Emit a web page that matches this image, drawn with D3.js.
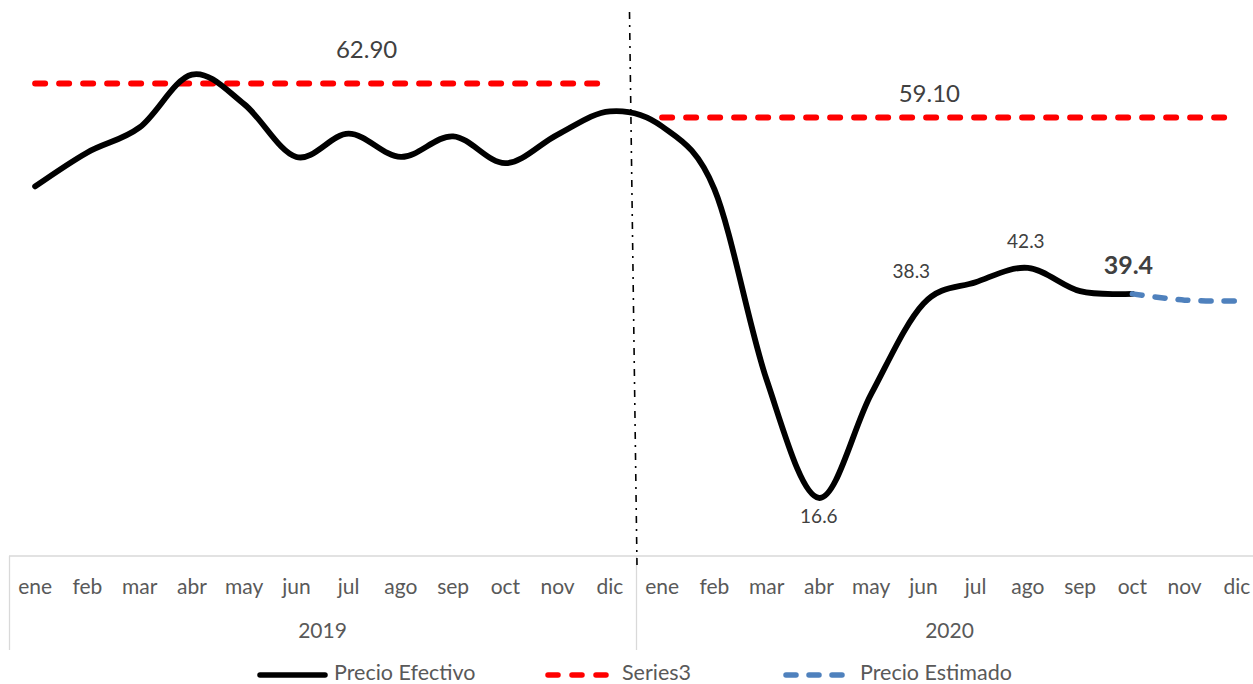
<!DOCTYPE html>
<html>
<head>
<meta charset="utf-8">
<script src="https://cdn.jsdelivr.net/npm/d3@7"></script>
<style>
  body { margin: 0; background: #fff; }
  svg { display: block; font-family: Lato, "Noto Sans", sans-serif; }
</style>
</head>
<body>
<svg id="chart" width="1253" height="684"></svg>
<script>
// months and years on the category axis
const months = ["ene", "feb", "mar", "abr", "may", "jun", "jul", "ago", "sep", "oct", "nov", "dic"];
const years = ["2019", "2020"];

// Precio Efectivo, nulls where there is no data
const precioEfectivo = [51.4, 55.2, 58.0, 63.9, 60.6, 54.7, 57.3, 54.7, 57.0, 54.0, 57.2, 59.8,
                        58.1, 51.1, 29.8, 16.6, 28.2, 38.3, 40.7, 42.3, 39.7, 39.4, null, null];
// Precio Estimado starts at the last real value
const precioEstimado = [null, null, null, null, null, null, null, null, null, null, null, null,
                        null, null, null, null, null, null, null, null, null, 39.4, 38.7, 38.6];
// Series3 = yearly average line
const series3 = [62.90, 59.10];

const labelled = [15, 17, 19, 21]; // points that carry a data label

let svg = d3.select("#chart");

// one entry per month
let cats = [];
years.forEach(function (yr, yi) {
    months.forEach(function (m, mi) {
        cats.push({ key: yr + "-" + m, month: m, year: yr, yi: yi, i: yi * 12 + mi });
    });
});

let x = d3.scaleBand()
    .domain(cats.map(d => d.key))
    .range([9, 1263]);

let y = d3.scaleLinear()
    .domain([10, 70])
    .range([557, 20]);

let cx = i => x(cats[i].key) + x.bandwidth() / 2;

// ---------------- category axis
let axisG = svg.append("g");
axisG.append("line")
    .attr("x1", 9).attr("x2", 1263)
    .attr("y1", 556).attr("y2", 556)
    .attr("stroke", "#d9d9d9").attr("stroke-width", 1.3);

// year separators
[0, 12].forEach(function (i) {
    let xx = x(cats[i].key);
    axisG.append("line")
        .attr("x1", xx + 0.5).attr("x2", xx + 0.5)
        .attr("y1", 556).attr("y2", 650)
        .attr("stroke", "#d9d9d9").attr("stroke-width", 1.3);
});

axisG.selectAll("text.month")
    .data(cats)
    .join("text")
    .attr("class", "month")
    .attr("x", d => x(d.key) + x.bandwidth() / 2)
    .attr("y", 589)
    .attr("text-anchor", "middle")
    .attr("dominant-baseline", "middle")
    .attr("font-size", 21)
    .attr("fill", "#595959")
    .text(d => d.month);

axisG.selectAll("text.year")
    .data(years)
    .join("text")
    .attr("class", "year")
    .attr("x", (d, i) => (x(cats[i * 12].key) + x(cats[i * 12 + 11].key) + x.bandwidth()) / 2)
    .attr("y", 633)
    .attr("text-anchor", "middle")
    .attr("dominant-baseline", "middle")
    .attr("font-size", 21)
    .attr("fill", "#595959")
    .text(d => d);

// ---------------- dash-dot divider between the years
svg.append("line")
    .attr("x1", 629.5).attr("y1", 12)
    .attr("x2", 637).attr("y2", 566)
    .attr("stroke", "#000")
    .attr("stroke-width", 1.6)
    .attr("stroke-dasharray", "7,6,2,6");

// ---------------- Series3 (red dashed, one piece per year)
years.forEach(function (yr, yi) {
    let pts = cats.filter(d => d.yi === yi);
    svg.append("path")
        .datum(pts)
        .attr("fill", "none")
        .attr("stroke", "#ff0000")
        .attr("stroke-width", 6)
        .attr("stroke-linecap", "round")
        .attr("stroke-dasharray", "10,14")
        .attr("d", d3.line()
            .x(d => cx(d.i))
            .y(d => y(series3[yi])));
});

// ---------------- Precio Efectivo
let smooth = d3.curveCardinal.tension(0);

svg.append("path")
    .datum(cats.filter(d => precioEfectivo[d.i] != null))
    .attr("fill", "none")
    .attr("stroke", "#000")
    .attr("stroke-width", 5.8)
    .attr("stroke-linecap", "round")
    .attr("d", d3.line()
        .curve(smooth)
        .x(d => cx(d.i))
        .y(d => y(precioEfectivo[d.i])));

// ---------------- Precio Estimado
svg.append("path")
    .datum(cats.filter(d => precioEstimado[d.i] != null))
    .attr("fill", "none")
    .attr("stroke", "#4f81bd")
    .attr("stroke-width", 5.5)
    .attr("stroke-linecap", "round")
    .attr("stroke-dasharray", "10,13")
    .attr("d", d3.line()
        .curve(smooth)
        .x(d => cx(d.i))
        .y(d => y(precioEstimado[d.i])));

// ---------------- labels
svg.append("text")
    .attr("x", cx(6) + 18)
    .attr("y", y(series3[0]) - 32)
    .attr("text-anchor", "middle")
    .attr("dominant-baseline", "middle")
    .attr("font-size", 24)
    .attr("fill", "#404040")
    .text(series3[0].toFixed(2));

svg.append("text")
    .attr("x", cx(17) + 6)
    .attr("y", y(series3[1]) - 22)
    .attr("text-anchor", "middle")
    .attr("dominant-baseline", "middle")
    .attr("font-size", 24)
    .attr("fill", "#404040")
    .text(series3[1].toFixed(2));

// offsets of each data label from its point
const labelOff = { 15: [0, 20], 17: [-12, -31], 19: [-2, -25], 21: [-4, -26] };

svg.selectAll("text.dl")
    .data(labelled)
    .join("text")
    .attr("class", "dl")
    .attr("x", i => cx(i) + labelOff[i][0])
    .attr("y", i => y(precioEfectivo[i]) + labelOff[i][1])
    .attr("text-anchor", "middle")
    .attr("dominant-baseline", "middle")
    .attr("font-size", i => i === 21 ? 25 : 19)
    .attr("font-weight", i => i === 21 ? "bold" : "normal")
    .attr("fill", "#404040")
    .text(i => precioEfectivo[i].toFixed(1));

// ---------------- legend
const legendItems = [
    { name: "Precio Efectivo", color: "#000", dash: null, x: 257 },
    { name: "Series3", color: "#ff0000", dash: "10,14", x: 545 },
    { name: "Precio Estimado", color: "#4f81bd", dash: "10,13", x: 783 }
];

let legend = svg.append("g");
legendItems.forEach(function (it) {
    legend.append("line")
        .attr("x1", it.x + 3).attr("x2", it.x + 68)
        .attr("y1", 675).attr("y2", 675)
        .attr("stroke", it.color)
        .attr("stroke-width", 5.5)
        .attr("stroke-linecap", "round")
        .attr("stroke-dasharray", it.dash);
    legend.append("text")
        .attr("x", it.x + 77)
        .attr("y", 675)
        .attr("dominant-baseline", "middle")
        .attr("font-size", 21.5)
        .attr("fill", "#595959")
        .text(it.name);
});
</script>
</body>
</html>
